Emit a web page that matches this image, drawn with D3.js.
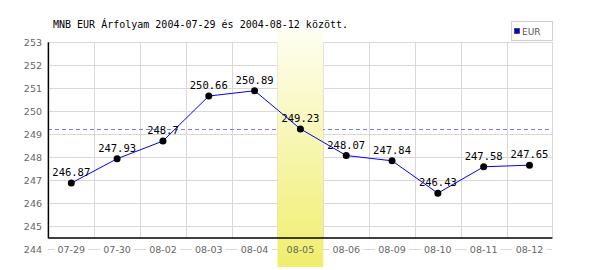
<!DOCTYPE html>
<html><head><meta charset="utf-8">
<script src="https://cdn.jsdelivr.net/npm/d3@7"></script>
<style>body{margin:0;background:#fff}svg{display:block}</style>
</head><body>
<script>
const categories = ["07-29","07-30","08-02","08-03","08-04","08-05","08-06","08-09","08-10","08-11","08-12"];
const values = [246.87,247.93,248.7,250.66,250.89,249.23,248.07,247.84,246.43,247.58,247.65];
const valueLabels = ["246.87","247.93","248.7","250.66","250.89","249.23","248.07","247.84","246.43","247.58","247.65"];
const yTicks = [244,245,246,247,248,249,250,251,252,253];
const highlightCat = "08-05";
const refValue = 249.23;
const title = "MNB EUR Árfolyam 2004-07-29 és 2004-08-12 között.";
const seriesName = "EUR";

const W=600,H=270;
const L=48.4,R=552.4,T=42.3,B=238,Y0=249;
const svg=d3.select("body").append("svg").attr("width",W).attr("height",H);
const x=d3.scalePoint().domain(categories).range([L,R]).padding(0.5);
const y=d3.scaleLinear().domain([244,253]).range([Y0,T]);
const step=x.step();

const defs=svg.append("defs");
const g=defs.append("linearGradient").attr("id","band").attr("x1",0).attr("y1",0).attr("x2",0).attr("y2",1);
g.append("stop").attr("offset","0%").attr("stop-color","#fefef2");
g.append("stop").attr("offset","100%").attr("stop-color","#f0ee6c");

// horizontal gridlines
svg.append("g").attr("shape-rendering","crispEdges").selectAll("line").data(yTicks).join("line")
 .attr("x1",L).attr("x2",R).attr("y1",d=>Math.round(y(d))+0.5).attr("y2",d=>Math.round(y(d))+0.5)
 .attr("stroke","#d8d8d8").attr("stroke-width",1);
// vertical gridlines at boundaries
const bounds=d3.range(categories.length+1).map(i=>L+i*step);
svg.append("g").attr("shape-rendering","crispEdges").selectAll("line").data(bounds).join("line")
 .attr("x1",d=>Math.round(d)+0.5).attr("x2",d=>Math.round(d)+0.5).attr("y1",T).attr("y2",B)
 .attr("stroke","#d8d8d8").attr("stroke-width",1);

// white backgrounds behind x labels
svg.append("g").selectAll("rect").data(categories).join("rect")
 .attr("x",d=>x(d)-17).attr("y",Y0-6).attr("width",34).attr("height",12).attr("fill","#fff");

// dashed reference line
svg.append("line").attr("shape-rendering","crispEdges")
 .attr("x1",L).attr("x2",R).attr("y1",Math.round(y(refValue))+0.5).attr("y2",Math.round(y(refValue))+0.5)
 .attr("stroke","#7a7aff").attr("stroke-width",1).attr("stroke-dasharray","4,3");

// highlight band
svg.append("rect").attr("x",x(highlightCat)-step/2).attr("y",30).attr("width",step).attr("height",237)
 .attr("fill","url(#band)");

// axes
svg.append("line").attr("x1",L).attr("x2",L).attr("y1",T).attr("y2",B+0.5).attr("stroke","#000").attr("stroke-width",1.5);
svg.append("line").attr("x1",L).attr("x2",R).attr("y1",B).attr("y2",B).attr("stroke","#000").attr("stroke-width",1.5);

// y labels
svg.append("g").selectAll("text").data(yTicks).join("text")
 .attr("x",42).attr("y",d=>y(d)+3.5).attr("text-anchor","end")
 .attr("font-family","DejaVu Sans").attr("font-size",9.5).attr("fill","#666").text(d=>d);
// x labels
svg.append("g").selectAll("text").data(categories).join("text")
 .attr("x",d=>x(d)).attr("y",Y0+3.5).attr("text-anchor","middle")
 .attr("font-family","DejaVu Sans").attr("font-size",9.5).attr("fill","#666").text(d=>d);

// line
svg.append("path").datum(values).attr("fill","none").attr("stroke","#0000ff").attr("stroke-width",1)
 .attr("d",d3.line().x((d,i)=>x(categories[i])).y(d=>y(d)));
// points
svg.append("g").selectAll("circle").data(values).join("circle")
 .attr("cx",(d,i)=>x(categories[i])).attr("cy",d=>y(d)).attr("r",3.5).attr("fill","#000");
// value labels
svg.append("g").selectAll("text").data(values).join("text")
 .attr("x",(d,i)=>x(categories[i])).attr("y",d=>y(d)-7).attr("text-anchor","middle")
 .attr("font-family","DejaVu Sans Mono").attr("font-size",10.5).attr("fill","#000").text((d,i)=>valueLabels[i]);

// title
svg.append("text").attr("x",53).attr("y",28).attr("font-family","DejaVu Sans Mono").attr("font-size",10)
 .attr("fill","#000").text(title);

// legend
svg.append("rect").attr("x",511.5).attr("y",21.5).attr("width",41).attr("height",19).attr("fill","#fff").attr("stroke","#d0d0d0");
svg.append("rect").attr("x",514.5).attr("y",28.5).attr("width",5).attr("height",5).attr("fill","#0000ff").attr("stroke","#333").attr("stroke-width",0.7);
svg.append("text").attr("x",522).attr("y",34.5).attr("font-family","DejaVu Sans").attr("font-size",9).attr("fill","#555").text(seriesName);
</script>
</body></html>
